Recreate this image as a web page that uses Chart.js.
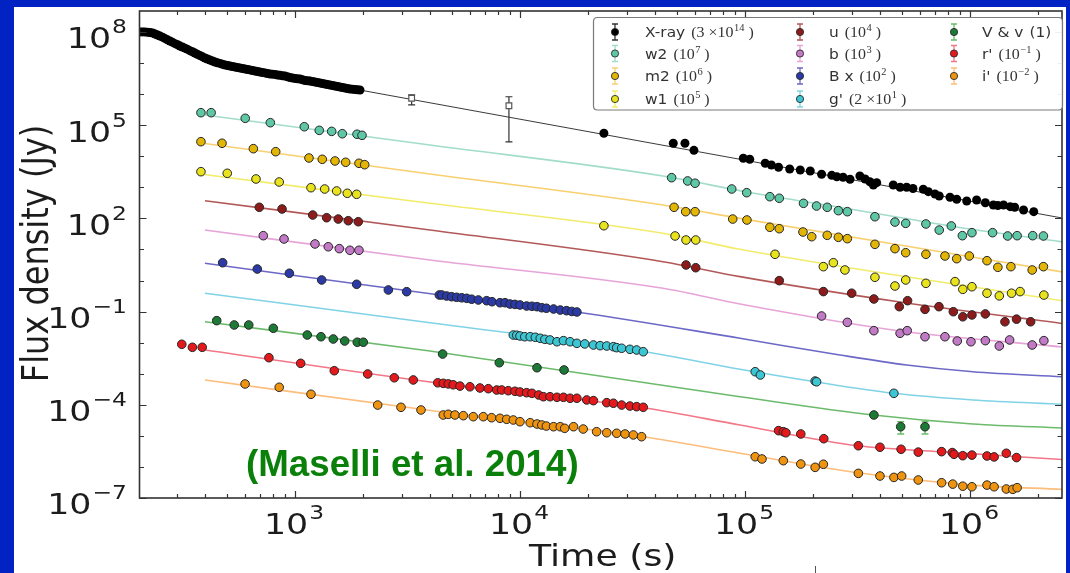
<!DOCTYPE html>
<html><head><meta charset="utf-8">
<script src="https://cdn.jsdelivr.net/npm/chart.js@4.4.1/dist/chart.umd.min.js"></script>
<style>html,body{margin:0;padding:0;background:#0222c4;overflow:hidden}canvas{display:block}</style>
</head><body>
<canvas id="c" width="1070" height="573"></canvas>
<script>
// ---------- axis ranges ----------
const X_MIN = 203.7, X_MAX = 2.564e6;
const Y_MIN = 1e-7, Y_MAX = 4.72e8;
const xDecadeLabels = [3, 4, 5, 6];
const yDecadeLabels = [8, 5, 2, -1, -4, -7];

// ---------- data: [time (s), flux density (Jy)] ----------
const xrayEarlyPoints = [[205,1.0e8],[210,1.0e8],[215,1.0e8],[221,9.8e7],[227,9.6e7],[233,9.25e7],[239,8.6e7],[245,7.98e7],[251,7.4e7],[258,6.78e7],[264,6.2e7],[271,5.58e7],[278,5.1e7],[285,4.68e7],[293,4.2e7],[301,3.86e7],[308,3.5e7],[316,3.28e7],[324,3.0e7],[332,2.79e7],[341,2.5e7],[350,2.30e7],[359,2.1e7],[368,1.92e7],[378,1.75e7],[388,1.58e7],[398,1.45e7],[408,1.35e7],[419,1.25e7],[430,1.16e7],[441,1.08e7],[452,1.02e7],[464,9.7e6],[476,9.16e6],[489,8.6e6],[502,8.32e6],[514,8.0e6],[527,7.73e6],[541,7.4e6],[555,7.18e6],[570,6.9e6],[585,6.67e6],[600,6.4e6],[616,6.18e6],[631,6.0e6],[647,5.74e6],[664,5.5e6],[681,5.33e6],[699,5.1e6],[717,4.95e6],[736,4.8e6],[755,4.6e6],[774,4.4e6],[794,4.37e6],[815,4.3e6],[836,4.11e6],[858,4.0e6],[880,3.88e6],[903,3.8e6],[926,3.6e6],[950,3.4e6],[975,3.3e6],[1000,3.2e6],[1026,3.1e6],[1053,3.06e6],[1080,2.88e6],[1108,2.74e6],[1137,2.68e6],[1166,2.64e6],[1196,2.54e6],[1227,2.45e6],[1259,2.36e6],[1292,2.28e6],[1325,2.19e6],[1359,2.11e6],[1394,2.04e6],[1431,1.96e6],[1468,1.89e6],[1506,1.82e6],[1545,1.75e6],[1585,1.69e6],[1626,1.63e6],[1668,1.57e6],[1711,1.51e6],[1756,1.46e6],[1801,1.44e6],[1848,1.41e6],[1896,1.37e6],[1945,1.35e6]];
const xrayLatePoints = [[23600,5.47e4],[48000,2.61e4],[54100,2.61e4],[59300,1.55e4],[98300,8570],[105000,7960],[123000,5920],[131000,5220],[141000,4400],[158000,3880],[176000,3610],[195000,3350],[219000,2620],[243000,2430],[256000,2190],[273000,2100],[293000,1810],[324000,2310],[342000,1850],[359000,1510],[372000,1190],[385000,1410],[456000,1190],[489000,1000],[523000,1000],[558000,915],[620000,863],[653000,722],[699000,608],[730000,525],[815000,477],[873000,411],[967000,362],[1.07e6,390],[1.17e6,319],[1.27e6,269],[1.33e6,260],[1.41e6,269],[1.51e6,238],[1.58e6,227],[1.73e6,186],[1.92e6,164]];
const xraySquares = [[3300,7.3e5],[8930,4.2e5]];
const xraySquareErr = [[3300,4.5e5,9.4e5],[8930,2.9e4,8.2e5]];
const xrayModel = [[1500,1.9e6],[2.56e6,103]];

const w2Points = [[382,2.52e5],[424,2.52e5],[601,1.66e5],[777,1.20e5],[1100,8.9e4],[1282,6.8e4],[1456,6.3e4],[1623,5.3e4],[1887,5.1e4],[1986,4.7e4],[47200,2040],[55600,1600],[60000,1350],[87300,881],[101800,670],[129000,499],[142000,443],[182000,305],[208000,250],[232000,227],[260000,177],[285000,164],[378000,113],[464000,76],[518000,69],[637000,66],[730000,42],[826000,57],[925000,27.7],[1.02e6,34.6],[1.26e6,34.6],[1.47e6,27.1],[1.62e6,27.7],[1.90e6,27.7],[2.12e6,27.1]];
const w2Model = [[398,2.12e5],[3981,2.30e4],[43200,2310],[101800,706],[293000,200],[815000,57],[2.59e6,17.4]];

const m2Points = [[382,2.94e4],[474,2.61e4],[653,1.75e4],[821,1.40e4],[1154,8770],[1322,7960],[1506,7030],[1680,6380],[1925,5920],[2041,5340],[48400,227],[54500,164],[60000,164],[88200,95],[102000,88.6],[129000,51.6],[142000,46.5],[181000,36.4],[198000,25.7],[232000,28.5],[260000,24.6],[285000,22.2],[378000,14.6],[464000,10.6],[518000,7.85],[637000,6.98],[774000,6.15],[873000,5.04],[993000,6.15],[1.19e6,4.34],[1.33e6,2.66],[1.52e6,2.79],[1.89e6,2.18],[2.12e6,2.79]];
const m2Model = [[390,2.61e4],[3981,2680],[43200,269],[95000,100],[2.59e6,1.88]];

const w1Points = [[382,3180],[500,2820],[671,1850],[851,1480],[1178,971],[1355,881],[1532,760],[1708,641],[1880,595],[23600,58],[48900,27.1],[54700,20.1],[60400,20.1],[136000,6.98],[223000,2.79],[247000,3.74],[278000,2.18],[378000,1.27],[464000,0.665],[518000,1.04],[637000,0.81],[858000,0.92],[929000,0.52],[1.02e6,0.63],[1.19e6,0.39],[1.35e6,0.32],[1.53e6,0.39],[1.67e6,0.44],[2.13e6,0.34]];
const w1Model = [[394,2580],[3981,305],[43200,33],[95000,10.1],[2.59e6,0.22]];

const uPoints = [[694,227],[876,200],[1199,128],[1383,105],[1557,95],[1725,84],[1911,78],[54700,3.16],[60400,2.58],[142000,0.99],[223000,0.44],[298000,0.39],[374000,0.254],[485000,0.144],[528000,0.224],[631000,0.118],[728000,0.144],[843000,0.099],[929000,0.068],[1.02e6,0.078],[1.17e6,0.084],[1.43e6,0.047],[1.61e6,0.057],[1.86e6,0.047]];
const uModel = [[398,371],[3981,42.3],[43200,4.03],[95000,1.33],[489000,0.203],[2.59e6,0.041]];

const bPoints = [[723,27.7],[894,21.7],[1227,15.0],[1406,12.2],[1574,10.6],[1755,9.38],[1925,9.38],[219000,0.072],[285000,0.045],[374000,0.0243],[489000,0.020],[526000,0.0243],[631000,0.0155],[774000,0.0155],[878000,0.0113],[1.01e6,0.0107],[1.17e6,0.0116],[1.35e6,0.0078],[1.50e6,0.0122],[1.89e6,0.0084],[2.13e6,0.0116]];
const bModel = [[398,42.3],[3981,4.57],[43200,0.561],[95000,0.175],[489000,0.0237],[2.59e6,0.0072]];

const BPoints = [[477,3.74],[680,2.34],[944,1.71],[1314,1.04],[1880,0.755],[2600,0.496],[3136,0.437],[4380,0.342],[4490,0.342],[4720,0.317],[4970,0.301],[5230,0.288],[5510,0.278],[5800,0.267],[6100,0.25],[6530,0.236],[7110,0.224],[7510,0.208],[8150,0.193],[8580,0.193],[9030,0.175],[9500,0.170],[10000,0.163],[10700,0.151],[11300,0.148],[11900,0.144],[12500,0.133],[13100,0.128],[14100,0.121],[15100,0.112],[16100,0.107],[17000,0.101],[17900,0.097]];
const BModel = [[398,3.58],[4410,0.342],[18100,0.095],[95000,0.0138],[264000,0.0040],[523000,0.00191],[1.03e6,0.00116],[2.56e6,0.0008]];

const gPoints = [[9340,0.0176],[9670,0.0173],[10000,0.0164],[10500,0.0155],[11100,0.0155],[11700,0.0149],[12300,0.0138],[12900,0.0128],[13600,0.0122],[14600,0.0107],[15600,0.0116],[16700,0.0107],[17900,0.0095],[19400,0.0091],[21200,0.0084],[22700,0.0080],[24300,0.0078],[26000,0.0074],[26900,0.0069],[28300,0.0066],[30800,0.0061],[33000,0.0058],[35300,0.0051],[111000,0.00116],[117000,0.00091],[205000,0.00058],[208000,0.00055],[459000,0.000234]];
const gModel = [[398,0.387],[3981,0.0438],[35900,0.0051],[95000,0.00139],[205000,0.00055],[459000,0.000234],[1.03e6,0.000143],[2.59e6,0.000104]];

const VPoints = [[449,0.051],[537,0.037],[623,0.037],[801,0.029],[1134,0.0176],[1305,0.0155],[1480,0.0131],[1663,0.0113],[1892,0.0103],[2012,0.0103],[4530,0.0043],[8090,0.00226],[11900,0.00156],[15700,0.00132],[374000,4.7e-5],[492000,1.97e-5],[631000,1.97e-5]];
const VErr = [[492000,1.15e-5,2.86e-5],[631000,1.15e-5,2.86e-5]];
const VModel = [[398,0.047],[3981,0.0054],[95000,1.82e-4],[372000,4.7e-5],[1.03e6,2.41e-5],[2.59e6,1.79e-5]];

const rPoints = [[314,0.00885],[350,0.00708],[387,0.00708],[766,0.00328],[1060,0.00216],[1495,0.00125],[2104,0.00098],[2763,0.00074],[3356,0.00063],[4310,0.00051],[4560,0.00049],[4800,0.00047],[5050,0.00044],[5410,0.00040],[5990,0.00038],[6640,0.000347],[7230,0.00033],[7880,0.000299],[8290,0.000299],[8870,0.000284],[9500,0.000272],[10000,0.000258],[10700,0.000245],[11300,0.000234],[12100,0.000207],[12700,0.000182],[13600,0.000182],[14600,0.000174],[15600,0.000174],[16700,0.000162],[17900,0.000162],[19800,0.000143],[21200,0.000136],[24300,0.000117],[26000,0.000112],[28300,9.8e-5],[30800,9.1e-5],[33000,8.7e-5],[35300,8.3e-5],[141000,1.47e-5],[148000,1.36e-5],[152000,1.26e-5],[177000,1.15e-5],[224000,8.1e-6],[319000,4.8e-6],[398000,4.3e-6],[494000,3.7e-6],[589000,3.0e-6],[748000,3.1e-6],[834000,2.9e-6],[849000,2.55e-6],[929000,2.3e-6],[1.02e6,2.4e-6],[1.19e6,2.25e-6],[1.28e6,2.1e-6],[1.45e6,2.75e-6],[1.61e6,2.0e-6]];
const rModel = [[398,0.0058],[4410,0.00049],[35900,7.9e-5],[95000,2.24e-5],[318000,4.8e-6],[736000,3.1e-6],[2.59e6,1.73e-6]];

const iPoints = [[600,4.67e-4],[851,3.66e-4],[1178,2.18e-4],[2331,9.8e-5],[2959,8.3e-5],[3631,6.8e-5],[4560,4.69e-5],[4800,4.94e-5],[5140,4.69e-5],[5600,4.46e-5],[6200,4.14e-5],[6870,4.14e-5],[7480,3.84e-5],[8150,3.67e-5],[8730,3.41e-5],[9340,3.24e-5],[10000,2.86e-5],[11100,2.65e-5],[11900,2.41e-5],[12500,2.24e-5],[13100,2.07e-5],[14100,1.97e-5],[15100,1.97e-5],[15800,1.75e-5],[17300,1.97e-5],[19100,1.66e-5],[21900,1.36e-5],[24300,1.26e-5],[26900,1.21e-5],[29300,1.15e-5],[31900,1.07e-5],[34700,9.4e-6],[111000,2.13e-6],[119000,1.80e-6],[148000,1.59e-6],[177000,1.24e-6],[205000,9.7e-7],[223000,1.22e-6],[319000,6.2e-7],[398000,5.1e-7],[459000,4.6e-7],[497000,5.1e-7],[589000,3.8e-7],[748000,3.1e-7],[838000,2.8e-7],[929000,2.4e-7],[1.02e6,2.3e-7],[1.19e6,2.6e-7],[1.28e6,2.3e-7],[1.45e6,1.95e-7],[1.55e6,1.9e-7],[1.62e6,2.15e-7]];
const iModel = [[398,6.3e-4],[4410,6.0e-5],[35900,9.2e-6],[95000,2.75e-6],[318000,6.5e-7],[1.03e6,2.6e-7],[2.59e6,1.9e-7]];

// ---------- series meta ----------
const series = [
  {key:'xray', name:'X-ray', coef:['(3 ×10','14',' )'], color:'#000000', line:'#3a3a3a', pts:xrayEarlyPoints.concat(xrayLatePoints), model:xrayModel},
  {key:'w2', name:'w2', coef:['(10','7',' )'], color:'#5ec8a6', line:'#a2dccb', pts:w2Points, model:w2Model},
  {key:'m2', name:'m2', coef:['(10','6',' )'], color:'#e3b505', line:'#f9d070', pts:m2Points, model:m2Model},
  {key:'w1', name:'w1', coef:['(10','5',' )'], color:'#e8e31c', line:'#f2ec6c', pts:w1Points, model:w1Model},
  {key:'u', name:'u', coef:['(10','4',' )'], color:'#8e1b1b', line:'#b35858', pts:uPoints, model:uModel},
  {key:'b', name:'b', coef:['(10','3',' )'], color:'#c27ac6', line:'#e6a4d8', pts:bPoints, model:bModel},
  {key:'B', name:'B x', coef:['(10','2',' )'], color:'#2b3aa6', line:'#6c68c6', pts:BPoints, model:BModel},
  {key:'g', name:"g'", coef:['(2 ×10','1',' )'], color:'#3cc6d4', line:'#80d3e6', pts:gPoints, model:gModel},
  {key:'V', name:'V & v', coef:null, color:'#1c7a36', line:'#6cbb6c', pts:VPoints, model:VModel},
  {key:'r', name:"r'", coef:['(10','−1',' )'], color:'#e3191c', line:'#f27787', pts:rPoints, model:rModel},
  {key:'i', name:"i'", coef:['(10','−2',' )'], color:'#ef9410', line:'#fdbd7c', pts:iPoints, model:iModel}
];
const legendOrder = [['xray','w2','m2','w1'],['u','b','B','g'],['V','r','i']];

const toXY = a => a.map(p => ({x:p[0], y:p[1]}));
const datasets = [];
series.forEach(s => {
  datasets.push({label:s.name+' model', data:toXY(s.model), showLine:true, borderColor:s.line,
    borderWidth: s.key==='xray'?1:1.6, pointRadius:0, fill:false, cubicInterpolationMode:'monotone', order:3});
});
series.forEach(s => {
  datasets.push({label:s.name, data:toXY(s.pts), showLine:false, pointStyle:'circle',
    pointRadius: s.key==='xray' ? 4.5 : 4.3, backgroundColor:s.color,
    borderColor: s.key==='xray' ? '#000' : '#262626', borderWidth: s.key==='xray'?0:1, order:1});
});
datasets.push({label:'X-ray (square)', data:toXY(xraySquares), showLine:false, pointStyle:'rect',
  pointRadius:4, backgroundColor:'#ffffff', borderColor:'#555', borderWidth:1.2, order:0});

const errorSets = [
  {err:xraySquareErr, color:'#333', w:1.2},
  {err:VErr, color:'#6cbb6c', w:1.5}
];

// ---------- text helpers ----------
function sText(ctx, txt, x, y, font, sx, align, color){
  ctx.save(); ctx.font = font; ctx.fillStyle = color || '#1c1c1c';
  ctx.textAlign = align || 'left'; ctx.textBaseline = 'alphabetic';
  ctx.translate(x, y); ctx.scale(sx, 1); ctx.fillText(txt, 0, 0); ctx.restore();
}
function tw(ctx, txt, font, sx){ ctx.save(); ctx.font = font; const w = ctx.measureText(txt).width*sx; ctx.restore(); return w; }

const TF_BASE = '29px "DejaVu Sans"', TF_EXP = '19.5px "DejaVu Sans"', TSX = 1.2;
function drawPow(ctx, exp, xRef, baseY, align){
  const wb = tw(ctx,'10',TF_BASE,TSX), we = tw(ctx,exp,TF_EXP,TSX);
  const total = wb + we + 1;
  const left = align === 'right' ? xRef - total : xRef - total/2;
  sText(ctx,'10',left,baseY,TF_BASE,TSX);
  sText(ctx,exp,left+wb+1,baseY-15,TF_EXP,TSX);
}

const decor = {
  id:'decor',
  beforeDraw(chart){
    const ctx = chart.ctx;
    ctx.save();
    ctx.fillStyle = '#0222c4'; ctx.fillRect(0,0,chart.width,chart.height);
    ctx.fillStyle = '#ffffff'; ctx.fillRect(14,7,1052,566);
    ctx.restore();
  },
  beforeDatasetsDraw(chart){
    const ctx = chart.ctx, xs = chart.scales.x, ys = chart.scales.y;
    ctx.save();
    errorSets.forEach(es => {
      ctx.strokeStyle = es.color; ctx.lineWidth = es.w;
      es.err.forEach(e => {
        const px = xs.getPixelForValue(e[0]), y1 = ys.getPixelForValue(e[1]), y2 = ys.getPixelForValue(e[2]);
        ctx.beginPath(); ctx.moveTo(px,y1); ctx.lineTo(px,y2);
        ctx.moveTo(px-3.5,y1); ctx.lineTo(px+3.5,y1);
        ctx.moveTo(px-3.5,y2); ctx.lineTo(px+3.5,y2); ctx.stroke();
      });
    });
    ctx.restore();
  },
  afterDatasetsDraw(chart){
    const ctx = chart.ctx, xs = chart.scales.x, ys = chart.scales.y, a = chart.chartArea;
    ctx.save();
    ctx.strokeStyle = '#333'; ctx.lineWidth = 1.2;
    ctx.beginPath();
    for (let k = -7; k <= 8; k++){
      const py = Math.round(ys.getPixelForValue(Math.pow(10,k)))+0.5;
      const len = yDecadeLabels.includes(k) ? 7 : 4.5;
      ctx.moveTo(a.left,py); ctx.lineTo(a.left+len,py);
      ctx.moveTo(a.right,py); ctx.lineTo(a.right-len,py);
    }
    for (let k = 2; k <= 6; k++){
      for (let m = 1; m <= 9; m++){
        const v = m*Math.pow(10,k);
        if (v <= X_MIN || v >= X_MAX) continue;
        const px = Math.round(xs.getPixelForValue(v))+0.5;
        const len = m === 1 ? 7 : 4;
        ctx.moveTo(px,a.bottom); ctx.lineTo(px,a.bottom-len);
        ctx.moveTo(px,a.top); ctx.lineTo(px,a.top+len);
      }
    }
    ctx.stroke();
    ctx.lineWidth = 1.6; ctx.strokeStyle = '#333';
    ctx.strokeRect(a.left, a.top, a.right-a.left, a.bottom-a.top);
    ctx.restore();

    yDecadeLabels.forEach(k => {
      const py = ys.getPixelForValue(Math.pow(10,k));
      drawPow(ctx, String(k).replace('-','−'), 127, py+16.4, 'right');
    });
    xDecadeLabels.forEach(k => {
      const px = xs.getPixelForValue(Math.pow(10,k));
      drawPow(ctx, String(k), px-1, 534, 'center');
    });
    sText(ctx,'Time (s)', (a.left+a.right)/2+2, 566, '31px "DejaVu Sans"', 1.17, 'center');
    ctx.save();
    ctx.translate(47.5,(a.top+a.bottom)/2-1); ctx.rotate(-Math.PI/2); ctx.scale(1,1.15);
    ctx.font = '32px "DejaVu Sans"'; ctx.fillStyle = '#1c1c1c'; ctx.textAlign = 'center';
    ctx.fillText('Flux density (Jy)',0,0);
    ctx.restore();
    sText(ctx,'(Maselli et al. 2014)', 246, 476, 'bold 36px "Liberation Sans"', 1.02, 'left', '#0a800a');
    ctx.save(); ctx.strokeStyle = '#555'; ctx.lineWidth = 1;
    ctx.beginPath(); ctx.moveTo(815.5,566); ctx.lineTo(815.5,573); ctx.stroke(); ctx.restore();

    // legend
    ctx.save();
    const lx = 593.5, ly = 17.5, lw = 469, lh = 92.5, r = 4;
    ctx.fillStyle = 'rgba(255,255,255,0.92)'; ctx.strokeStyle = '#7a7a7a'; ctx.lineWidth = 1.2;
    ctx.beginPath();
    ctx.moveTo(lx+r,ly); ctx.lineTo(lx+lw-r,ly); ctx.quadraticCurveTo(lx+lw,ly,lx+lw,ly+r);
    ctx.lineTo(lx+lw,ly+lh-r); ctx.quadraticCurveTo(lx+lw,ly+lh,lx+lw-r,ly+lh);
    ctx.lineTo(lx+r,ly+lh); ctx.quadraticCurveTo(lx,ly+lh,lx,ly+lh-r);
    ctx.lineTo(lx,ly+r); ctx.quadraticCurveTo(lx,ly,lx+r,ly); ctx.closePath();
    ctx.fill(); ctx.stroke();
    ctx.restore();
    const rowsY = [32, 53.5, 76, 99], markX = [615, 800, 954], textX = [645, 829, 982];
    const NF = '14px "DejaVu Sans"', CF = '14.5px "Liberation Serif"', SF = '9.5px "Liberation Serif"', LSX = 1.1;
    legendOrder.forEach((col, ci) => {
      col.forEach((key, ri) => {
        const s = series.find(q => q.key === key);
        const my = rowsY[ri], mx = markX[ci];
        ctx.save();
        ctx.strokeStyle = s.key === 'xray' ? '#333' : s.line; ctx.lineWidth = 1.3;
        ctx.beginPath(); ctx.moveTo(mx,my-8); ctx.lineTo(mx,my+8);
        ctx.moveTo(mx-3,my-8); ctx.lineTo(mx+3,my-8); ctx.moveTo(mx-3,my+8); ctx.lineTo(mx+3,my+8); ctx.stroke();
        ctx.beginPath(); ctx.arc(mx,my,3.6,0,Math.PI*2); ctx.fillStyle = s.color; ctx.fill();
        ctx.strokeStyle = '#2a2a2a'; ctx.lineWidth = 0.9; ctx.stroke();
        ctx.restore();
        let x = textX[ci]; const by = my + 5;
        sText(ctx, s.name, x, by, NF, LSX, 'left', '#333'); x += tw(ctx, s.name, NF, LSX) + 6;
        if (s.coef){
          sText(ctx, s.coef[0], x, by, CF, LSX, 'left', '#333'); x += tw(ctx, s.coef[0], CF, LSX);
          sText(ctx, s.coef[1], x+0.5, by-6, SF, LSX, 'left', '#333'); x += tw(ctx, s.coef[1], SF, LSX) + 0.5;
          sText(ctx, s.coef[2], x, by, CF, LSX, 'left', '#333');
        } else {
          sText(ctx, '(1)', x, by, NF, LSX, 'left', '#333');
        }
      });
    });
  }
};

new Chart(document.getElementById('c'), {
  type:'scatter',
  data:{datasets},
  options:{
    responsive:false, animation:false, devicePixelRatio:1,
    layout:{padding:{left:139.5, top:11, right:8, bottom:75}},
    plugins:{legend:{display:false}, tooltip:{enabled:false}},
    scales:{
      x:{type:'logarithmic', min:X_MIN, max:X_MAX, display:false},
      y:{type:'logarithmic', min:Y_MIN, max:Y_MAX, display:false}
    }
  },
  plugins:[decor]
});
</script>
</body></html>
